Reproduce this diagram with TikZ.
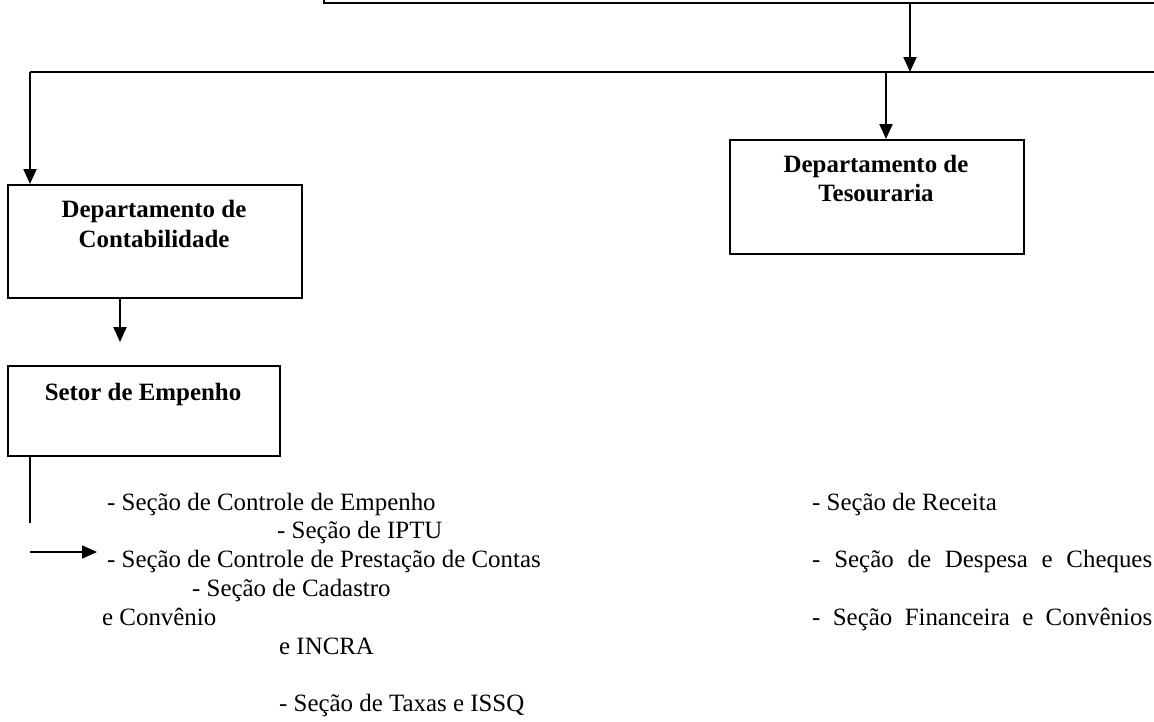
\documentclass[tikz,border=0pt]{standalone}
\usepackage{fontspec}
\setmainfont{Liberation Serif}
\usetikzlibrary{arrows.meta}
\tikzset{
  box/.style={draw, line width=2pt, inner sep=0pt, anchor=north west},
  conn/.style={line width=2pt},
  arr/.style={line width=2pt, -{Triangle[length=15pt,width=13pt]}},
  txt/.style={anchor=base west, inner sep=0pt, font=\fontsize{24.9}{28.6}\selectfont},
  head/.style={anchor=base, inner sep=0pt, font=\bfseries\fontsize{24.9}{28.6}\selectfont}
}
\begin{document}
\begin{tikzpicture}[x=1pt,y=1pt]
\useasboundingbox (0,0) rectangle (1154,-721);
\clip (0,0) rectangle (1154,-721);
% boxes
\node[box, anchor=south west, minimum width=900, minimum height=40] (top) at (323,-4) {};
\node[box, minimum width=294, minimum height=113] (contab) at (7,-184) {};
\node[box, minimum width=294, minimum height=114] (tes) at (729,-139) {};
\node[box, minimum width=272, minimum height=90] (setor) at (7,-365) {};
% box titles
\node[head] (contab1) at (154,-217) {Departamento de};
\node[head] (contab2) at (154,-247) {Contabilidade};
\node[head] (tes1) at (876,-172) {Departamento de};
\node[head] (tes2) at (876,-201) {Tesouraria};
\node[head] (setor1) at (143,-400) {Setor de Empenho};
% connector points
\coordinate (j1) at (910,-72);
\coordinate (busL) at (30,-72);
\coordinate (busR) at (1160,-72);
\coordinate (j2) at (886,-72);
\coordinate (a3) at (120,-342);
\coordinate (s1) at (30,-523);
\coordinate (h1) at (30,-552);
\coordinate (h2) at (97,-552);
% connectors
\draw[arr] (j1 |- top.south) -- (j1);
\draw[conn] (busL) -- (busR);
\draw[arr] (busL) -- (busL |- contab.north);
\draw[arr] (j2) -- (j2 |- tes.north);
\draw[arr] (a3 |- contab.south) -- (a3);
\draw[conn] (s1 |- setor.south) -- (s1);
\draw[arr] (h1) -- (h2);
% left column texts
\node[txt] (l1) at (107,-510) {- Seção de Controle de Empenho};
\node[txt] (l2) at (277,-538) {- Seção de IPTU};
\node[txt] (l3) at (107,-567) {- Seção de Controle de Prestação de Contas};
\node[txt] (l4) at (192,-596) {- Seção de Cadastro};
\node[txt] (l5) at (102,-625) {e Convênio};
\node[txt] (l6) at (279,-654) {e INCRA};
\node[txt] (l7) at (279,-711) {- Seção de Taxas e ISSQ};
% right column texts
\node[txt] (r1) at (812,-510) {- Seção de Receita};
\node[txt] (r2) at (812,-567) {\makebox[340pt][s]{- Seção de Despesa e Cheques}};
\node[txt] (r3) at (812,-625) {\makebox[340pt][s]{- Seção Financeira e Convênios}};
\end{tikzpicture}
\end{document}
